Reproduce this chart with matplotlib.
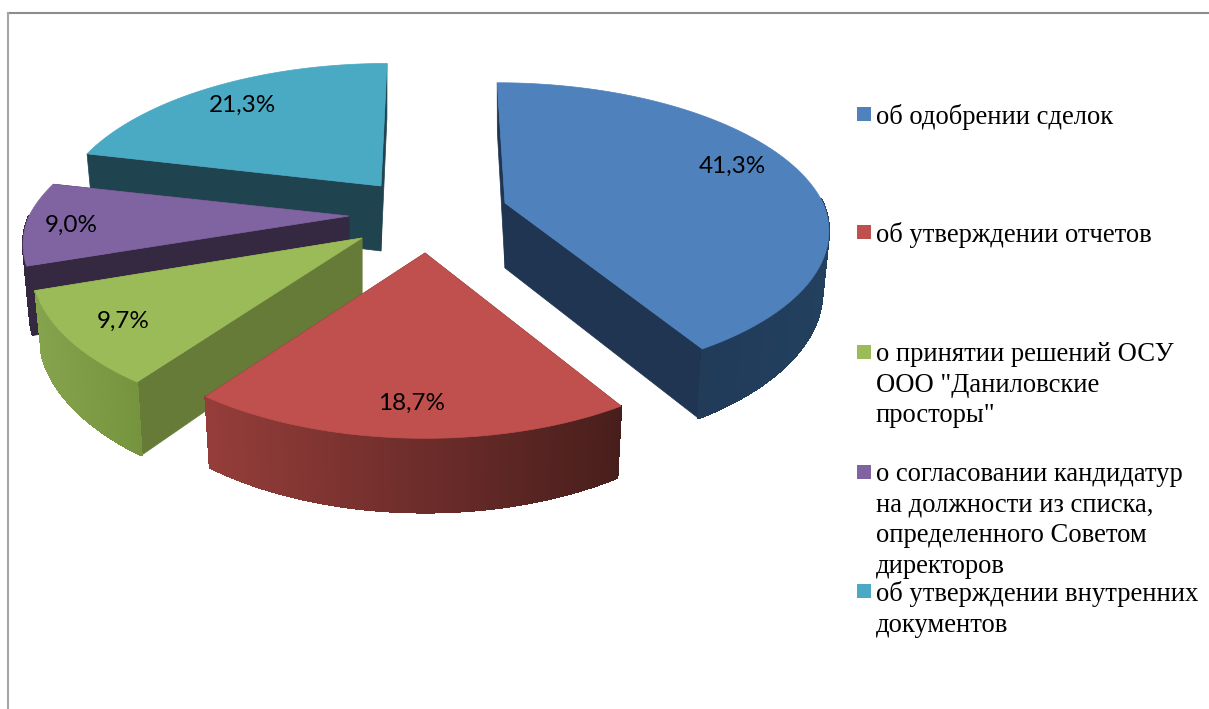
import numpy as np
import matplotlib
matplotlib.use('Agg')
import matplotlib.pyplot as plt
from matplotlib.patches import Polygon, Rectangle

# data
categories = [
    'об одобрении сделок',
    'об утверждении отчетов',
    'о принятии решений ОСУ\nООО "Даниловские\nпросторы"',
    'о согласовании кандидатур\nна должности из списка,\nопределенного Советом\nдиректоров',
    'об утверждении внутренних\nдокументов',
]
shares = [41.3, 18.7, 9.7, 9.0, 21.3]
share_labels = ['41,3%', '18,7%', '9,7%', '9,0%', '21,3%']

# styles and layout (in pixels of the 1209x709 picture)
top_colors = ['#4f81bd', '#c0504d', '#9bbb59', '#8064a2', '#4aa9c3']
wall_colors = ['#1f3551', '#5a2624', '#677b39', '#352841', '#1f4450']
side_left = ['#1d3350', '#953d3a', '#85a24c', '#352841', '#1f4450']
side_right = ['#23405f', '#481e1c', '#76933e', '#352841', '#1f4450']
apex = [(505, 203), (425, 253), (362, 238), (349, 216), (381, 186)]
label_pos = [(732, 166), (412, 403), (123, 321), (71, 225), (242, 105)]
legend_y = [115, 233, 353, 473, 592]

radii = [318, 316, 324, 320, 317]
tilts = [0.45, 0.475, 0.465, 0.45, 0.46]
rim_depth = [58, 60, 62, 65, 65]
persp = 0.19
depth = 65
bottom_shrink = 0.98
vanish_x = 435
vanish_amount = 0.7


def project(theta, ax0, ay0, r, tilt, d):
    # theta runs clockwise from 12 o'clock, y of the disc points to the viewer
    x_disc = np.sin(theta)
    y_disc = -np.cos(theta)
    s = 1 / (1 - persp * y_disc)
    x = ax0 + vanish_amount * (ax0 - vanish_x) * (np.minimum(s, 1) - 1) + x_disc * r * s
    y = ay0 + y_disc * tilt * r * s
    return x, y, d * s


def lower(x, y, d, ax0):
    return ax0 + (x - ax0) * bottom_shrink, y + d


fig = plt.figure(figsize=(12.09, 7.09), dpi=100)
ax = fig.add_axes([0, 0, 1, 1])
ax.set_xlim(0, 1209)
ax.set_ylim(709, 0)
ax.axis('off')

# chart frame, only top and left are inside the picture
ax.plot([8, 1209], [13, 13], color='#8c8c8c', lw=1.5)
ax.plot([8, 8], [13, 709], color='#a6a6a6', lw=1.5)

edges = np.cumsum([0] + shares) / sum(shares) * 2 * np.pi

# back slices first, the blue one does not touch anything
for i in [4, 3, 2, 1, 0]:
    ax0, ay0 = apex[i]
    thetas = np.linspace(edges[i], edges[i + 1], 80)
    x, y, d = project(thetas, ax0, ay0, radii[i], tilts[i], rim_depth[i])
    xb, yb = lower(x, y, d, ax0)
    apex_bottom = (ax0, ay0 + depth)

    # radial walls
    for k in [-1, 0]:
        wall = [(ax0, ay0), (x[k], y[k]), (xb[k], yb[k]), apex_bottom]
        ax.add_patch(Polygon(wall, closed=True, fc=wall_colors[i], ec=wall_colors[i], lw=0.5))

    # outer rim, shaded along the arc (the back part is hidden anyway)
    c0 = np.array(matplotlib.colors.to_rgb(side_left[i]))
    c1 = np.array(matplotlib.colors.to_rgb(side_right[i]))
    span = x.max() - x.min()
    for j in range(len(thetas) - 1):
        if y[j] < ay0 and y[j + 1] < ay0:
            continue
        f = (0.5 * (x[j] + x[j + 1]) - x.min()) / span
        col = c0 + (c1 - c0) * f
        quad = [(x[j], y[j]), (x[j + 1], y[j + 1]), (xb[j + 1], yb[j + 1]), (xb[j], yb[j])]
        ax.add_patch(Polygon(quad, closed=True, fc=col, ec=col, lw=1, antialiased=False))

    # top face
    face = np.column_stack([np.r_[ax0, x], np.r_[ay0, y]])
    ax.add_patch(Polygon(face, closed=True, fc=top_colors[i], ec=top_colors[i], lw=0.5))

    ax.text(label_pos[i][0], label_pos[i][1], share_labels[i], ha='center', va='center',
            fontsize=17.5, family='Lato', color='black')

# legend
for i, name in enumerate(categories):
    ax.add_patch(Rectangle((857, legend_y[i] - 8), 14, 14, fc=top_colors[i], ec='none'))
    ax.text(876, legend_y[i] - 11, name, ha='left', va='top', fontsize=19.15,
            family='Liberation Serif', color='black', linespacing=1.3)

fig.savefig('out.png', dpi=100)
